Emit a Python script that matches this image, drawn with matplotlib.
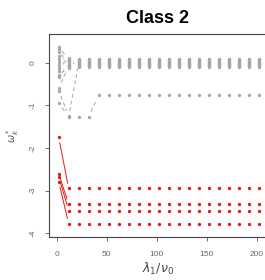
import numpy as np
import matplotlib
matplotlib.use('agg')
import matplotlib.pyplot as plt
from matplotlib.ticker import FuncFormatter

plt.rcParams['font.family'] = ['Liberation Sans', 'DejaVu Sans']

# lambda_1 / nu_0 grid
x = [2, 12, 22, 32, 42, 52, 62, 72, 82, 92, 102,
     112, 122, 132, 142, 152, 162, 172, 182, 192, 202]

# grey series (settle near 0, one drops then settles at -0.75)
g1 = [0.38, 0.08, 0.10, 0.10, 0.10, 0.10, 0.10, 0.10, 0.10, 0.10, 0.10,
      0.10, 0.10, 0.10, 0.10, 0.10, 0.10, 0.10, 0.10, 0.10, 0.10]
g2 = [0.32, -0.10, 0.08, 0.08, 0.08, 0.08, 0.08, 0.08, 0.08, 0.08, 0.08,
      0.08, 0.08, 0.08, 0.08, 0.08, 0.08, 0.08, 0.08, 0.08, 0.08]
g3 = [0.25, 0.12, 0.06, 0.06, 0.06, 0.06, 0.06, 0.06, 0.06, 0.06, 0.06,
      0.06, 0.06, 0.06, 0.06, 0.06, 0.06, 0.06, 0.06, 0.06, 0.06]
g4 = [0.17, 0.02, 0.04, 0.04, 0.04, 0.04, 0.04, 0.04, 0.04, 0.04, 0.04,
      0.04, 0.04, 0.04, 0.04, 0.04, 0.04, 0.04, 0.04, 0.04, 0.04]
g5 = [0.10, -0.04, 0.02, 0.02, 0.02, 0.02, 0.02, 0.02, 0.02, 0.02, 0.02,
      0.02, 0.02, 0.02, 0.02, 0.02, 0.02, 0.02, 0.02, 0.02, 0.02]
g6 = [0.03, 0.05, 0.00, 0.00, 0.00, 0.00, 0.00, 0.00, 0.00, 0.00, 0.00,
      0.00, 0.00, 0.00, 0.00, 0.00, 0.00, 0.00, 0.00, 0.00, 0.00]
g7 = [-0.05, 0.00, -0.02, -0.02, -0.02, -0.02, -0.02, -0.02, -0.02, -0.02, -0.02,
      -0.02, -0.02, -0.02, -0.02, -0.02, -0.02, -0.02, -0.02, -0.02, -0.02]
g8 = [-0.12, 0.10, -0.04, -0.04, -0.04, -0.04, -0.04, -0.04, -0.04, -0.04, -0.04,
      -0.04, -0.04, -0.04, -0.04, -0.04, -0.04, -0.04, -0.04, -0.04, -0.04]
g9 = [-0.20, -0.07, -0.06, -0.06, -0.06, -0.06, -0.06, -0.06, -0.06, -0.06, -0.06,
      -0.06, -0.06, -0.06, -0.06, -0.06, -0.06, -0.06, -0.06, -0.06, -0.06]
g10 = [-0.28, -0.12, -0.08, -0.08, -0.08, -0.08, -0.08, -0.08, -0.08, -0.08, -0.08,
       -0.08, -0.08, -0.08, -0.08, -0.08, -0.08, -0.08, -0.08, -0.08, -0.08]
g11 = [-0.34, -0.02, -0.10, -0.10, -0.10, -0.10, -0.10, -0.10, -0.10, -0.10, -0.10,
       -0.10, -0.10, -0.10, -0.10, -0.10, -0.10, -0.10, -0.10, -0.10, -0.10]
g12 = [-0.58, -0.08, -0.03, -0.03, -0.03, -0.03, -0.03, -0.03, -0.03, -0.03, -0.03,
       -0.03, -0.03, -0.03, -0.03, -0.03, -0.03, -0.03, -0.03, -0.03, -0.03]
g13 = [-0.95, -1.26, 0.00, 0.00, 0.00, 0.00, 0.00, 0.00, 0.00, 0.00, 0.00,
       0.00, 0.00, 0.00, 0.00, 0.00, 0.00, 0.00, 0.00, 0.00, 0.00]
g14 = [-0.66, -1.24, -1.26, -1.26, -0.75, -0.75, -0.75, -0.75, -0.75, -0.75, -0.75,
       -0.75, -0.75, -0.75, -0.75, -0.75, -0.75, -0.75, -0.75, -0.75, -0.75]
grey_series = [g1, g2, g3, g4, g5, g6, g7, g8, g9, g10, g11, g12, g13, g14]

# red series
r1 = [-1.75, -2.95, -2.95, -2.95, -2.95, -2.95, -2.95, -2.95, -2.95, -2.95, -2.95,
      -2.95, -2.95, -2.95, -2.95, -2.95, -2.95, -2.95, -2.95, -2.95, -2.95]
r2 = [-2.60, -3.32, -3.32, -3.32, -3.32, -3.32, -3.32, -3.32, -3.32, -3.32, -3.32,
      -3.32, -3.32, -3.32, -3.32, -3.32, -3.32, -3.32, -3.32, -3.32, -3.32]
r3 = [-2.67, -3.47, -3.47, -3.47, -3.47, -3.47, -3.47, -3.47, -3.47, -3.47, -3.47,
      -3.47, -3.47, -3.47, -3.47, -3.47, -3.47, -3.47, -3.47, -3.47, -3.47]
r4 = [-2.79, -3.78, -3.78, -3.78, -3.78, -3.78, -3.78, -3.78, -3.78, -3.78, -3.78,
      -3.78, -3.78, -3.78, -3.78, -3.78, -3.78, -3.78, -3.78, -3.78, -3.78]
red_series = [r1, r2, r3, r4]

x_ticks = [0, 50, 100, 150, 200]
y_ticks = [0, -1, -2, -3, -4]

W, H = 265, 280
fig = plt.figure(figsize=(W / 100, H / 100), dpi=100)
ax = fig.add_axes([49 / W, 1 - 237 / H, (266.7 - 49) / W, (237 - 34) / H])
ax.set_xlim(-7.7, 210)
ax.set_ylim(-4.09, 0.68)


def type_b(ax, xs, ys, color, ls, gap=5.5):
    # R style type="b": segments with gaps around the points
    tr = ax.transData
    pts = tr.transform(np.column_stack([xs, ys]))
    inv = tr.inverted()
    for p, q in zip(pts[:-1], pts[1:]):
        d = q - p
        n = np.hypot(*d)
        if n <= 2 * gap:
            continue
        a = p + d / n * gap
        b = q - d / n * gap
        seg = inv.transform(np.array([a, b]))
        ax.plot(seg[:, 0], seg[:, 1], color=color, lw=0.7, ls=ls, zorder=2)
    ax.plot(xs, ys, 'o', color=color, ms=2.4, mec='none', zorder=3)


for s in grey_series:
    type_b(ax, x, s, '#a6a6a6', (0, (4, 3)))
for s in red_series:
    type_b(ax, x, s, '#de1c1c', '-')

ax.set_xticks(x_ticks)
ax.set_yticks(y_ticks)
fmt = FuncFormatter(lambda v, p: '%d' % v)
ax.xaxis.set_major_formatter(fmt)
ax.yaxis.set_major_formatter(fmt)
ax.tick_params(length=3, width=0.6, color='#555555', labelsize=6,
               labelcolor='#666666')
ax.tick_params(axis='x', pad=7)
ax.tick_params(axis='y', pad=6)
for lab in ax.get_yticklabels():
    lab.set_rotation(90)
    lab.set_va('center')
for sp in ax.spines.values():
    sp.set_linewidth(0.8)
    sp.set_color('#444444')

ax.set_title('Class 2', fontsize=13, fontweight='bold', pad=8)
ax.set_xlabel(r'$\lambda_1/\nu_0$', fontsize=9, color='#444444', labelpad=2)
ax.set_ylabel(r'$\omega_k^*$', fontsize=7, color='#555555', labelpad=6)

fig.savefig('out.png', dpi=100)
